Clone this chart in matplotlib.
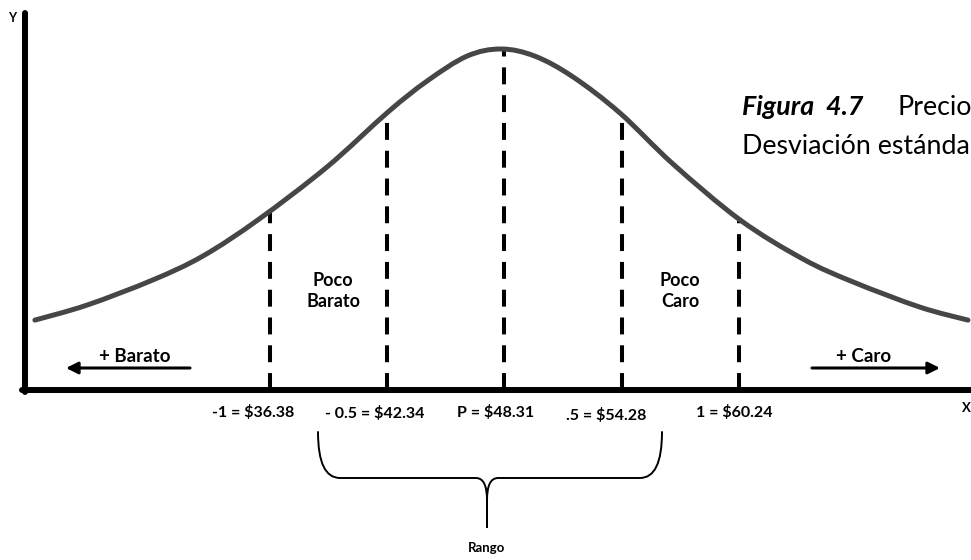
import matplotlib
matplotlib.use("Agg")
import matplotlib.pyplot as plt
import matplotlib.transforms as mtransforms
from matplotlib.path import Path
from matplotlib.patches import PathPatch

# curve: price vs. relative height (peak = 1)
curve_price = [24.42, 27.07, 30.43, 32.97, 35.77, 39.28, 42.38, 44.37, 46.40,
               48.13, 49.86, 51.80, 54.19, 56.88, 60.29, 63.50, 66.04, 69.45,
               71.89]
curve_height = [0.205, 0.249, 0.323, 0.393, 0.499, 0.654, 0.815, 0.906, 0.979,
                1.000, 0.979, 0.918, 0.812, 0.663, 0.499, 0.384, 0.317, 0.243,
                0.205]

# standard-deviation marks
sd_price = [36.38, 42.34, 48.31, 54.28, 60.24]
sd_height = [0.522, 0.815, 1.000, 0.812, 0.496]
sd_labels = ["-1 = $36.38", "- 0.5 = $42.34", "P = $48.31", ".5 = $54.28", "1 = $60.24"]
label_dx = [-17, -12, -9, -16, -5]   # pixel offsets of the labels
label_dy = [-22, -23, -22, -25, -22]

FONT = "Lato"


def smooth_path(xs, ys):
    """Catmull-Rom through the points, as cubic Bezier segments."""
    verts = [(xs[0], ys[0])]
    codes = [Path.MOVETO]
    n = len(xs)
    for i in range(n - 1):
        x0, y0 = (xs[i - 1], ys[i - 1]) if i > 0 else (xs[i], ys[i])
        x1, y1 = xs[i], ys[i]
        x2, y2 = xs[i + 1], ys[i + 1]
        x3, y3 = (xs[i + 2], ys[i + 2]) if i + 2 < n else (x2, y2)
        verts += [(x1 + (x2 - x0) / 6, y1 + (y2 - y0) / 6),
                  (x2 - (x3 - x1) / 6, y2 - (y3 - y1) / 6),
                  (x2, y2)]
        codes += [Path.CURVE4] * 3
    return Path(verts, codes)


fig = plt.figure(figsize=(9.71, 5.6), dpi=100)
ax = fig.add_axes([0, 0, 1, 1])
ax.set_xlim(22.644, 72.044)
ax.set_ylim(-0.4985, 1.1437)
ax.set_xticks([])
ax.set_yticks([])

# pixel transform (origin top-left) for the decorations
PX = mtransforms.Affine2D().scale(1 / 971, -1 / 560).translate(0, 1) + fig.transFigure

# axes as spines
for side in ["top", "right"]:
    ax.spines[side].set_visible(False)
ax.spines["left"].set_position(("data", 23.92))
ax.spines["left"].set_bounds(-0.006, 1.106)
ax.spines["bottom"].set_position(("data", 0))
ax.spines["bottom"].set_bounds(23.75, 72.1)
for side in ["left", "bottom"]:
    ax.spines[side].set_linewidth(4.3)
    ax.spines[side].set_color("black")
    ax.spines[side].set_capstyle("round")

# the curve
ax.add_patch(PathPatch(smooth_path(curve_price, curve_height), fill=False,
                       edgecolor="#464646", lw=3.6, capstyle="round",
                       joinstyle="round", zorder=3))

# dashed verticals, drawn from the axis up
for p, h in zip(sd_price, sd_height):
    ax.plot([p, p], [0, h], color="black", lw=2.9, linestyle=(0, (4.2, 2.7)),
            dash_capstyle="butt", zorder=2)

for p, txt, dx, dy in zip(sd_price, sd_labels, label_dx, label_dy):
    ax.annotate(txt, xy=(p, 0), xytext=(dx, dy), textcoords="offset pixels",
                ha="center", va="center", fontsize=11.5, fontweight="bold",
                family=FONT)

# axis letters
ax.text(12, 18, "Y", transform=PX, ha="center", va="center", fontsize=9,
        fontweight="bold", family=FONT)
ax.text(966, 408, "X", transform=PX, ha="center", va="center", fontsize=9.5,
        fontweight="bold", family=FONT)

# region texts
ax.text(333, 291, "Poco\nBarato", transform=PX, ha="center", va="center",
        fontsize=13, fontweight="bold", family=FONT, linespacing=1.3)
ax.text(680, 291, "Poco\nCaro", transform=PX, ha="center", va="center",
        fontsize=13, fontweight="bold", family=FONT, linespacing=1.3)
ax.text(135, 356, "+ Barato", transform=PX, ha="center", va="center",
        fontsize=13.5, fontweight="bold", family=FONT)
ax.text(864, 357, "+ Caro", transform=PX, ha="center", va="center",
        fontsize=13.5, fontweight="bold", family=FONT)

arrow = dict(arrowstyle="-|>,head_length=0.7,head_width=0.35", color="black",
             lw=2.2, shrinkA=0, shrinkB=0)
ax.annotate("", xy=(66, 368), xytext=(190, 368), xycoords=PX, textcoords=PX,
            arrowprops=arrow)
ax.annotate("", xy=(940, 368), xytext=(812, 368), xycoords=PX, textcoords=PX,
            arrowprops=arrow)

# brace under the middle band
brace_v = [(318, 432), (318, 478), (340, 478), (476, 478), (487, 478),
           (487, 500), (487, 527),
           (487, 527), (487, 500), (487, 478), (498, 478), (640, 478),
           (662, 478), (662, 432)]
brace_c = [Path.MOVETO, Path.CURVE3, Path.CURVE3, Path.LINETO, Path.CURVE3,
           Path.CURVE3, Path.LINETO,
           Path.MOVETO, Path.LINETO, Path.CURVE3, Path.CURVE3, Path.LINETO,
           Path.CURVE3, Path.CURVE3]
ax.add_patch(PathPatch(Path(brace_v, brace_c), transform=PX, fill=False,
                       lw=1.4, color="black", capstyle="round"))
ax.text(487, 548, "Rango", transform=PX, ha="center", va="center",
        fontsize=9.5, fontweight="bold", family=FONT)

# caption fragment on the right (cut by the picture's edge)
ax.text(742, 115, "Figura  4.7", transform=PX, ha="left", va="baseline",
        fontsize=19.3, fontweight="bold", fontstyle="italic", family=FONT)
ax.text(897, 115, "Precio", transform=PX, ha="left", va="baseline",
        fontsize=19.3, family=FONT)
ax.text(742, 154, "Desviación estánda", transform=PX, ha="left",
        va="baseline", fontsize=19.3, family=FONT)

fig.savefig("out.png", dpi=100)
